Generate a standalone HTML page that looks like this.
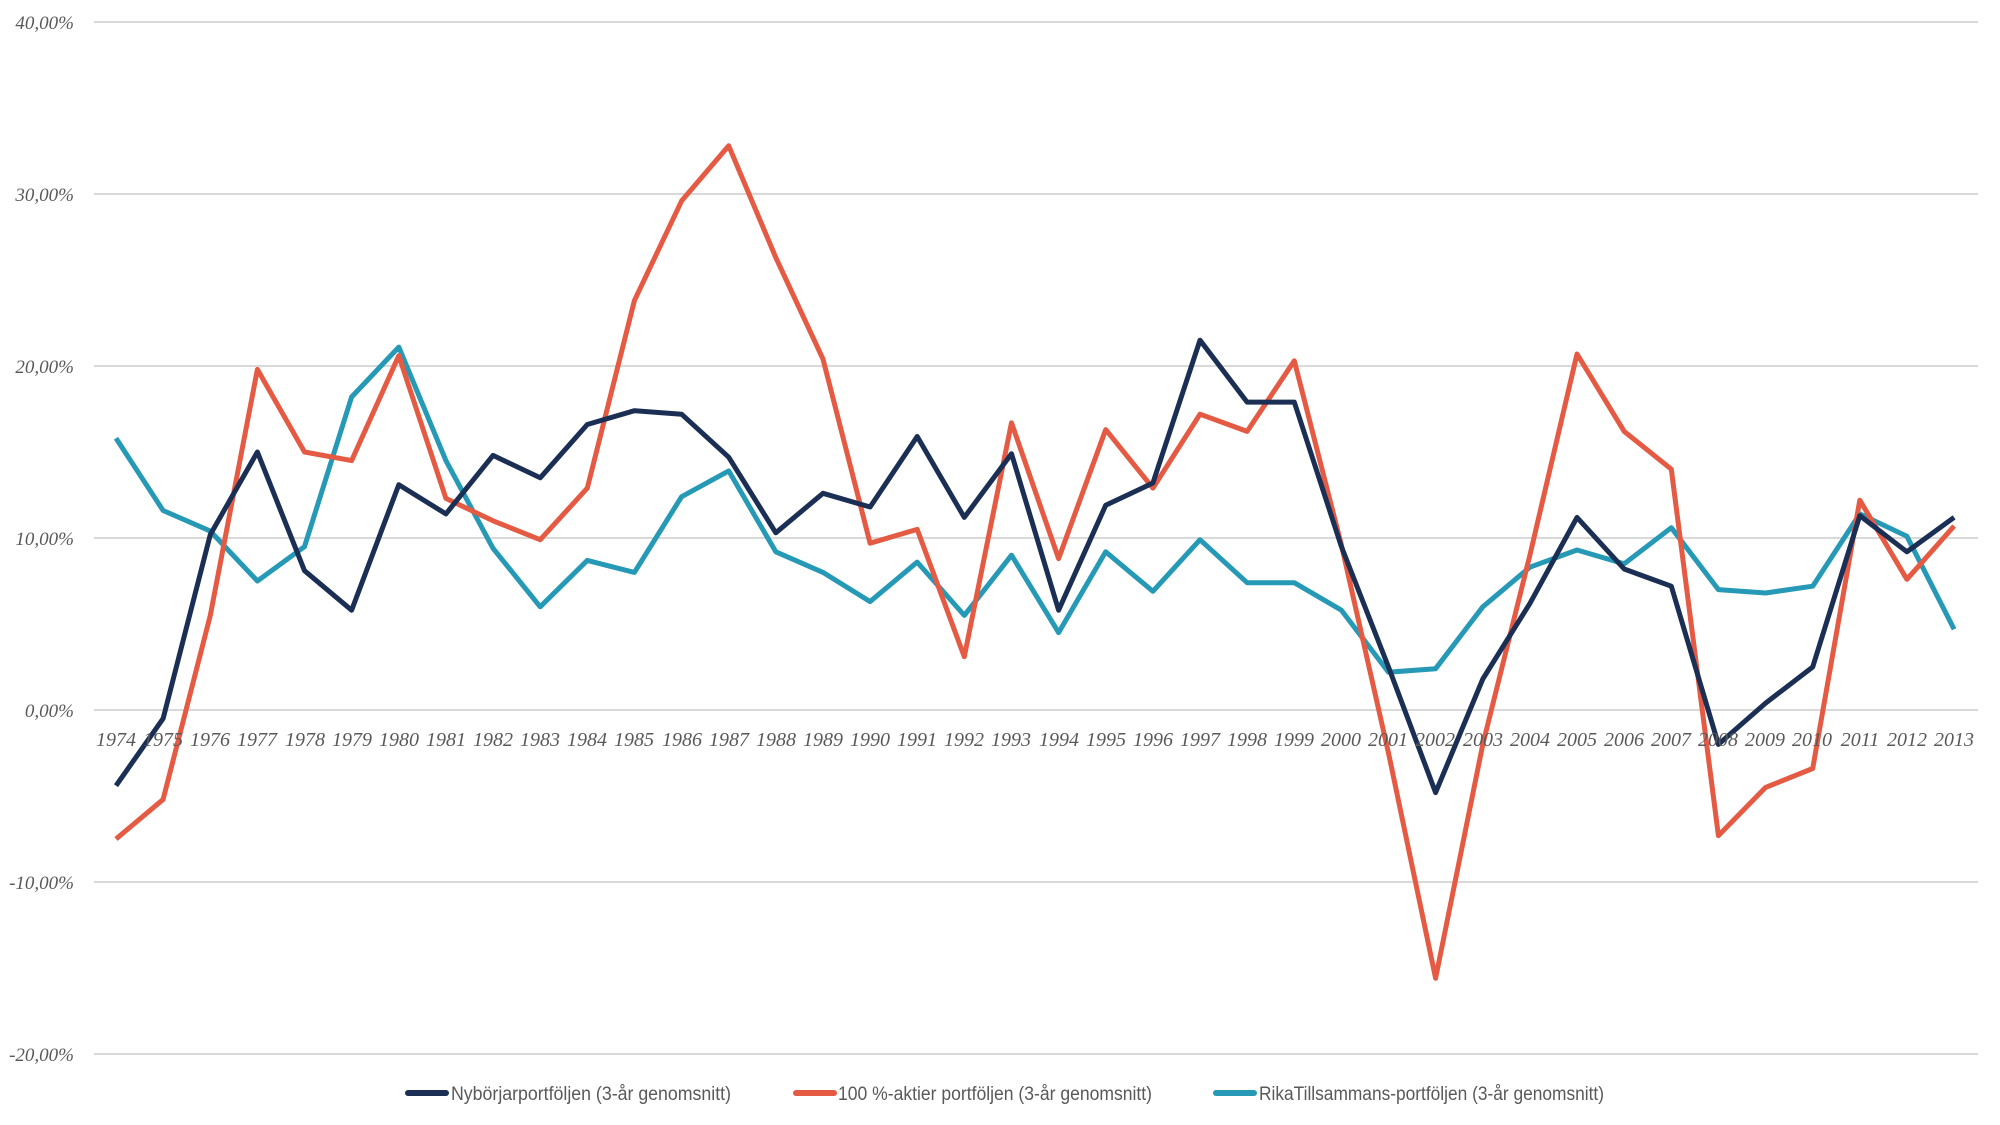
<!DOCTYPE html>
<html><head><meta charset="utf-8"><style>
html,body{margin:0;padding:0;background:#fff;}
svg{display:block;}
.yl{font-family:"Liberation Serif",serif;font-style:italic;font-size:19px;fill:#595959;}
.xl{font-family:"Liberation Serif",serif;font-style:italic;font-size:20px;fill:#595959;}
.lg{font-family:"Liberation Sans Narrow","Liberation Sans",sans-serif;font-size:19px;fill:#595959;}
</style></head><body>
<svg id="c" width="2000" height="1125" viewBox="0 0 2000 1125" xmlns="http://www.w3.org/2000/svg">
<g stroke="#d9d9d9" stroke-width="2">
<line x1="94" x2="1978" y1="22" y2="22"/>
<line x1="94" x2="1978" y1="194" y2="194"/>
<line x1="94" x2="1978" y1="366" y2="366"/>
<line x1="94" x2="1978" y1="538" y2="538"/>
<line x1="94" x2="1978" y1="710" y2="710"/>
<line x1="94" x2="1978" y1="882" y2="882"/>
<line x1="94" x2="1978" y1="1054" y2="1054"/>
</g>
<g class="yl" text-anchor="end">
<text x="74" y="29">40,00%</text>
<text x="74" y="201">30,00%</text>
<text x="74" y="373">20,00%</text>
<text x="74" y="545">10,00%</text>
<text x="74" y="717">0,00%</text>
<text x="74" y="889">-10,00%</text>
<text x="74" y="1061">-20,00%</text>
</g>
<g id="lines" fill="none" stroke-width="5" stroke-linejoin="round"></g>
<g class="xl" text-anchor="middle">
<text x="116" y="746">1974</text><text x="163" y="746">1975</text><text x="210" y="746">1976</text><text x="257" y="746">1977</text><text x="305" y="746">1978</text><text x="352" y="746">1979</text><text x="399" y="746">1980</text><text x="446" y="746">1981</text><text x="493" y="746">1982</text><text x="540" y="746">1983</text><text x="587" y="746">1984</text><text x="634" y="746">1985</text><text x="682" y="746">1986</text><text x="729" y="746">1987</text><text x="776" y="746">1988</text><text x="823" y="746">1989</text><text x="870" y="746">1990</text><text x="917" y="746">1991</text><text x="964" y="746">1992</text><text x="1011" y="746">1993</text><text x="1059" y="746">1994</text><text x="1106" y="746">1995</text><text x="1153" y="746">1996</text><text x="1200" y="746">1997</text><text x="1247" y="746">1998</text><text x="1294" y="746">1999</text><text x="1341" y="746">2000</text><text x="1388" y="746">2001</text><text x="1435" y="746">2002</text><text x="1483" y="746">2003</text><text x="1530" y="746">2004</text><text x="1577" y="746">2005</text><text x="1624" y="746">2006</text><text x="1671" y="746">2007</text><text x="1718" y="746">2008</text><text x="1765" y="746">2009</text><text x="1812" y="746">2010</text><text x="1860" y="746">2011</text><text x="1907" y="746">2012</text><text x="1954" y="746">2013</text>
</g>
<g stroke-width="6" stroke-linecap="round">
<line x1="408" x2="446" y1="1093" y2="1093" stroke="#1b2f55"/>
<line x1="796" x2="834" y1="1093" y2="1093" stroke="#e55a43"/>
<line x1="1216" x2="1254" y1="1093" y2="1093" stroke="#2599b5"/>
</g>
<g class="lg">
<text x="451" y="1100" textLength="280" lengthAdjust="spacingAndGlyphs">Nybörjarportföljen (3-år genomsnitt)</text>
<text x="838" y="1100" textLength="314" lengthAdjust="spacingAndGlyphs">100 %-aktier portföljen (3-år genomsnitt)</text>
<text x="1259" y="1100" textLength="345" lengthAdjust="spacingAndGlyphs">RikaTillsammans-portföljen (3-år genomsnitt)</text>
</g>
</svg>
<script>
var d=[
["#2599b5",[15.8,11.6,10.4,7.5,9.5,18.2,21.1,14.5,9.4,6.0,8.7,8.0,12.4,13.9,9.2,8.0,6.3,8.6,5.5,9.0,4.5,9.2,6.9,9.9,7.4,7.4,5.8,2.2,2.4,6.0,8.3,9.3,8.5,10.6,7.0,6.8,7.2,11.4,10.1,4.7]],
["#e55a43",[-7.5,-5.2,5.5,19.8,15,14.5,20.6,12.3,11,9.9,12.9,23.8,29.6,32.8,26.3,20.4,9.7,10.5,3.1,16.7,8.8,16.3,12.9,17.2,16.2,20.3,9.6,-2.5,-15.6,-2.0,9.0,20.7,16.2,14.0,-7.3,-4.5,-3.4,12.2,7.6,10.7]],
["#1b2f55",[-4.4,-0.5,10.2,15,8.1,5.8,13.1,11.4,14.8,13.5,16.6,17.4,17.2,14.7,10.3,12.6,11.8,15.9,11.2,14.9,5.8,11.9,13.2,21.5,17.9,17.9,9.5,2.5,-4.8,1.8,6.2,11.2,8.2,7.2,-2.0,0.4,2.5,11.3,9.2,11.2]]];
var g=document.getElementById('lines'),ns="http://www.w3.org/2000/svg";
d.forEach(function(s){var p=document.createElementNS(ns,'polyline');
p.setAttribute('stroke',s[0]);
p.setAttribute('points',s[1].map(function(v,i){return (116+i*47.13).toFixed(1)+','+(710-v*17.2).toFixed(1)}).join(' '));
g.appendChild(p);});
</script>
</body></html>
